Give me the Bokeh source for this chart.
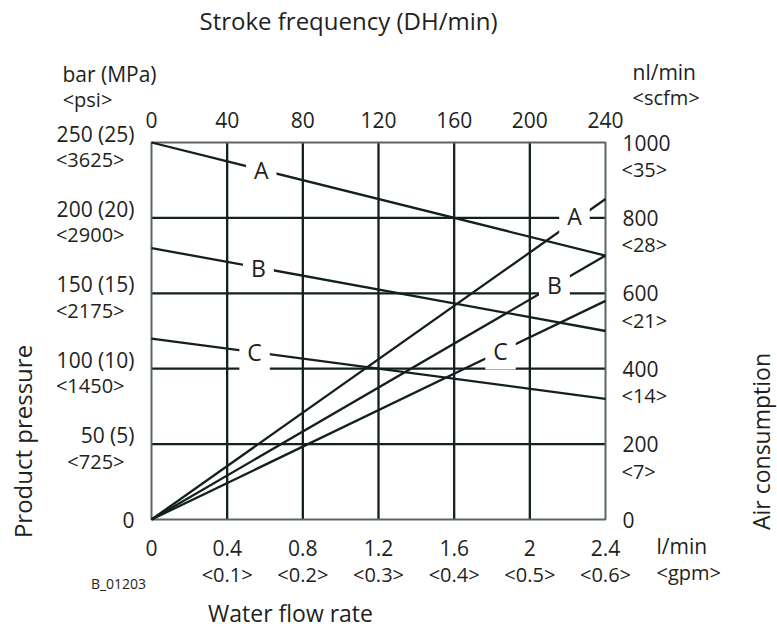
import numpy as np
from bokeh.plotting import figure
from bokeh.models import Range1d, Label
from bokeh.embed import file_html
from bokeh.resources import INLINE

# ---------------- data ----------------
flow_ticks = [0, 0.4, 0.8, 1.2, 1.6, 2.0, 2.4]
flow_labels = ["0", "0.4", "0.8", "1.2", "1.6", "2", "2.4"]
gpm_labels = ["", "<0.1>", "<0.2>", "<0.3>", "<0.4>", "<0.5>", "<0.6>"]

stroke_ticks = [0, 40, 80, 120, 160, 200, 240]
stroke_labels = ["0", "40", "80", "120", "160", "200", "240"]

pressure_ticks = [0, 50, 100, 150, 200, 250]
pressure_labels = ["0", "50 (5)", "100 (10)", "150 (15)", "200 (20)", "250 (25)"]
psi_labels = ["", "<725>", "<1450>", "<2175>", "<2900>", "<3625>"]

air_ticks = [0, 200, 400, 600, 800, 1000]
air_labels = ["0", "200", "400", "600", "800", "1000"]
scfm_labels = ["", "<7>", "<14>", "<21>", "<28>", "<35>"]

flow = [0, 2.4]
pressure_A = [250, 175]
pressure_B = [180, 125]
pressure_C = [120, 80]
air_A = [0, 850]
air_B = [0, 700]
air_C = [0, 580]

curve_names = ["A", "B", "C"]
pressure_series = [pressure_A, pressure_B, pressure_C]
air_series = [air_A, air_B, air_C]
pressure_label_x = [0.58, 0.565, 0.545]
air_label_x = [2.236, 2.13, 1.845]

# ---------------- layout (pixels) ----------------
W, H = 777, 627
FL, FR, FT, FB = 151, 605, 142, 519   # plot box edges on the canvas

x0, x1 = flow_ticks[0], flow_ticks[-1]
y0, y1 = pressure_ticks[0], pressure_ticks[-1]
kx = (FR - FL) / (x1 - x0)
ky = (FB - FT) / (y1 - y0)
xs, xe = x0 - FL / kx, x1 + (W - FR) / kx
ys, ye = y0 - (H - FB) / ky, y1 + FT / ky
f_scale = stroke_ticks[-1] / x1
a_scale = air_ticks[-1] / y1

# ---------------- style ----------------
LINE = "#13201f"
FRAME = "#5b6566"
TXT = "#231f20"
FONT = "Open Sans"
MAIN = "21px"
SUB = "20px"

p = figure(width=W, height=H, output_backend="svg", toolbar_location=None,
           x_range=Range1d(xs, xe), y_range=Range1d(ys, ye),
           x_axis_location=None, y_axis_location=None, min_border=0)
p.outline_line_color = None
p.grid.visible = False
p.background_fill_color = "white"
p.border_fill_color = "white"
p.extra_x_ranges = {"freq": Range1d(xs * f_scale, xe * f_scale)}
p.extra_y_ranges = {"air": Range1d(ys * a_scale, ye * a_scale)}

# grid lines
gx = flow_ticks[1:-1]
gy = pressure_ticks[1:-1]
p.segment(x0=gx, y0=[y0] * len(gx), x1=gx, y1=[y1] * len(gx),
          line_color=LINE, line_width=2.3)
p.segment(x0=[x0] * len(gy), y0=gy, x1=[x1] * len(gy), y1=gy,
          line_color=LINE, line_width=2.3)
# plot box
p.quad(left=[x0], right=[x1], bottom=[y0], top=[y1], fill_color=None,
       line_color=FRAME, line_width=2)

# curves
for ys_ in pressure_series:
    p.line(flow, ys_, line_color=LINE, line_width=2.3)
for ys_ in air_series:
    p.line(flow, ys_, line_color=LINE, line_width=2.3, y_range_name="air")


def lab(text, x, y, size=MAIN, align="center", xo=0, yo=0, angle=0.0,
        bg=None, x_range_name="default", y_range_name="default", pad=0):
    kw = dict(x=x, y=y, text=text, x_offset=xo, y_offset=yo,
              text_font=FONT, text_font_size=size, text_color=TXT,
              text_align=align, text_baseline="middle", angle=angle,
              x_range_name=x_range_name, y_range_name=y_range_name)
    if bg is not None:
        kw["background_fill_color"] = bg
        kw["padding"] = pad
    p.add_layout(Label(**kw))


# curve labels with white boxes breaking the lines
PAD = dict(left=8, right=8, top=2, bottom=2)
for name, ys_, lx in zip(curve_names, pressure_series, pressure_label_x):
    ly = float(np.interp(lx, flow, ys_))
    lab(name, lx, ly, size="23px", bg="white", pad=PAD)
air_offsets = [5, 0, 0]
for name, ys_, lx, yo in zip(curve_names, air_series, air_label_x, air_offsets):
    ly = float(np.interp(lx, flow, ys_))
    lab(name, lx, ly, size="23px", yo=yo, bg="white", y_range_name="air", pad=PAD)

# bottom tick labels (water flow)
for t, l, s in zip(flow_ticks, flow_labels, gpm_labels):
    lab(l, t, y0, yo=-28)
    if s:
        lab(s, t, y0, size=SUB, yo=-55)

# top tick labels (stroke frequency)
for t, l in zip(stroke_ticks, stroke_labels):
    lab(l, t, y1, yo=23, x_range_name="freq")

# left tick labels (pressure)
for t, l, s in zip(pressure_ticks, pressure_labels, psi_labels):
    lab(l, x0, t, align="right", xo=-17, yo=(9 if t > 0 else 0))
    if s:
        lab(s, x0, t, size=SUB, align="right", xo=-27, yo=-17)

# right tick labels (air consumption)
for t, l, s in zip(air_ticks, air_labels, scfm_labels):
    lab(l, x1, t, align="left", xo=17, yo=0, y_range_name="air")
    if s:
        lab(s, x1, t, size=SUB, align="left", xo=16, yo=-27, y_range_name="air")

# unit labels and titles
lab("bar (MPa)", x0, y1, xo=-42, yo=69)
lab("<psi>", x0, y1, size=SUB, xo=-64, yo=43)
lab("nl/min", x1, y1, align="left", xo=27, yo=71)
lab("<scfm>", x1, y1, size=SUB, align="left", xo=27, yo=45)
lab("l/min", x1, y0, align="left", xo=51, yo=-26)
lab("<gpm>", x1, y0, size=SUB, align="left", xo=51, yo=-53)
lab("B_01203", x0, y0, size="14px", xo=-33, yo=-64)
lab("Water flow rate", x0, y0, size="23px", xo=139, yo=-93)
lab("Stroke frequency (DH/min)", x0, y1, size="24px", xo=197, yo=122)
lab("Product pressure", x0, y0, size="24px", xo=-129, yo=78, angle=np.pi / 2)
lab("Air consumption", x1, y0, size="23px", xo=155, yo=78, angle=np.pi / 2)

open("out.html", "w").write(file_html(p, INLINE))
